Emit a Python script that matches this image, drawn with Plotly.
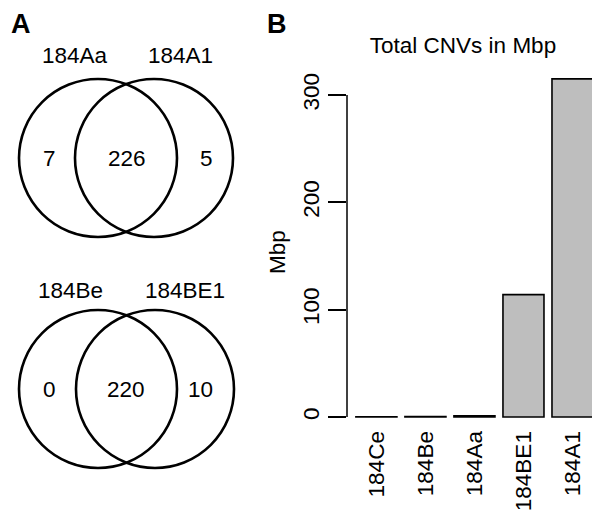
import plotly.graph_objects as go

# ---------------- data ----------------
bar_categories = ["184Ce", "184Be", "184Aa", "184BE1", "184A1"]
bar_values = [0.3, 0.4, 1.2, 114, 315]
y_tick_values = [0, 100, 200, 300]
y_tick_labels = ["0", "100", "200", "300"]
bar_title = "Total CNVs in Mbp"
bar_ylabel = "Mbp"

venn_top_sets = ["184Aa", "184A1"]
venn_top_counts = [7, 226, 5]
venn_bottom_sets = ["184Be", "184BE1"]
venn_bottom_counts = [0, 220, 10]
panel_labels = ["A", "B"]

# ---------------- layout helpers ----------------
W, H = 600, 517
OFF = 8  # page body margin offset of the plot div
FONT = "Liberation Sans, Arial, sans-serif"
FS = 22.5


def px(x):
    return (x - OFF) / W


def py(y):
    return 1 - (y - OFF) / H


fig = go.Figure()

fig.add_trace(go.Bar(
    x=bar_categories, y=bar_values,
    marker=dict(color="#bebebe", line=dict(color="black", width=1.6)),
    width=41 / 49, showlegend=False, hoverinfo="x+y",
))

# plot region (pixels in the page)
x_left, x_right = 347, 597
y_top, y_bot = 62.8, 425.6

fig.update_layout(
    width=W, height=H,
    margin=dict(l=0, r=0, t=0, b=0, autoexpand=False),
    paper_bgcolor="white", plot_bgcolor="white",
    font=dict(family=FONT, size=FS, color="black"),
    xaxis=dict(
        domain=[px(x_left), px(x_right)],
        range=[-0.6, 4.5],
        showgrid=False, zeroline=False, showline=False,
        ticks="", tickangle=-90, automargin=False,
        tickfont=dict(family=FONT, size=FS, color="black"),
        fixedrange=True,
    ),
    yaxis=dict(
        domain=[py(y_bot), py(y_top)],
        range=[-8, 330],
        showgrid=False, zeroline=False, showline=False,
        tickvals=y_tick_values, ticktext=y_tick_labels,
        ticks="outside", ticklen=18, tickwidth=1.5, tickcolor="black",
        tickangle=-90, automargin=False,
        tickfont=dict(family=FONT, size=FS, color="black"),
        fixedrange=True,
    ),
    title=dict(
        text=bar_title, x=px(463), xref="paper", xanchor="center",
        y=py(45), yref="paper", yanchor="middle",
        font=dict(family=FONT, size=FS, color="black"),
    ),
)

shapes = []
# y axis line from first to last tick
shapes.append(dict(type="line", xref="x domain", yref="y",
                   x0=0, x1=0, y0=y_tick_values[0], y1=y_tick_values[-1],
                   line=dict(color="black", width=1.5)))

annotations = []
annotations.append(dict(text=bar_ylabel, xref="paper", yref="paper",
                        x=px(277), y=py(252), textangle=-90, showarrow=False,
                        xanchor="center", yanchor="middle",
                        font=dict(family=FONT, size=FS, color="black")))

# panel letters
for letter, lx in zip(panel_labels, (21, 277)):
    annotations.append(dict(text="<b>%s</b>" % letter, xref="paper", yref="paper",
                            x=px(lx), y=py(24), showarrow=False, borderpad=0,
                            xanchor="center", yanchor="middle",
                            font=dict(family=FONT, size=27, color="black")))


def venn(sets, counts, cy, cx_left, cx_right, r, label_y, label_x, count_x):
    for cx in (cx_left, cx_right):
        shapes.append(dict(type="circle", xref="paper", yref="paper",
                           x0=px(cx - r), x1=px(cx + r),
                           y0=py(cy + r), y1=py(cy - r),
                           line=dict(color="black", width=2.6)))
    for name, lx in zip(sets, label_x):
        annotations.append(dict(text=name, xref="paper", yref="paper",
                                x=px(lx), y=py(label_y), showarrow=False,
                                xanchor="center", yanchor="middle",
                                font=dict(family=FONT, size=FS, color="black")))
    for c, cxn in zip(counts, count_x):
        annotations.append(dict(text=str(c), xref="paper", yref="paper",
                                x=px(cxn), y=py(cy), showarrow=False,
                                xanchor="center", yanchor="middle",
                                font=dict(family=FONT, size=FS, color="black")))


venn(venn_top_sets, venn_top_counts, 158, 98, 154, 79, 55, (75, 180), (49, 127, 206))
venn(venn_bottom_sets, venn_bottom_counts, 389, 98, 155, 79, 290, (70, 185), (49, 126, 200))

fig.update_layout(shapes=shapes, annotations=annotations)

fig.write_html("out.html")
